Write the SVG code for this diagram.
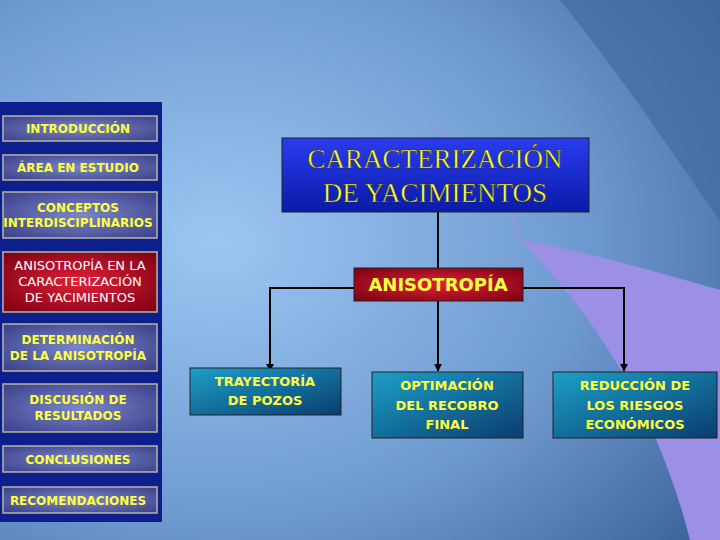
<svg xmlns="http://www.w3.org/2000/svg" width="720" height="540" viewBox="0 0 720 540">
<defs>
<radialGradient id="bg" cx="0.3" cy="0.45" r="0.85">
<stop offset="0" stop-color="#9cc6f2"/><stop offset="0.6" stop-color="#6f9ad0"/><stop offset="1" stop-color="#3f679d"/>
</radialGradient>
<radialGradient id="btn" cx="0.5" cy="0.5" r="0.7">
<stop offset="0" stop-color="#7a86c8"/><stop offset="1" stop-color="#3a3f8a"/>
</radialGradient>
<radialGradient id="red" cx="0.5" cy="0.5" r="0.7">
<stop offset="0" stop-color="#e0203a"/><stop offset="1" stop-color="#7a0010"/>
</radialGradient>
<linearGradient id="blue" x1="0" y1="0" x2="0" y2="1">
<stop offset="0" stop-color="#2a3cf0"/><stop offset="1" stop-color="#0a1aa8"/>
</linearGradient>
<linearGradient id="teal" x1="0" y1="0" x2="1" y2="1">
<stop offset="0" stop-color="#1ca0c8"/><stop offset="1" stop-color="#0a3d6e"/>
</linearGradient>
<marker id="arr" viewBox="0 0 10 10" refX="9" refY="5" markerWidth="4" markerHeight="4" orient="auto"><path d="M0,0L10,5L0,10z" fill="#000"/></marker>
<style>
.b{stroke:#b8b8a0;stroke-width:1.5;fill:url(#btn)}
.bt{font-family:"DejaVu Sans",sans-serif;font-weight:bold;font-size:12px;fill:#ffff40;text-anchor:middle}
.yt{font-family:"DejaVu Sans",sans-serif;font-weight:bold;fill:#ffff40;text-anchor:middle}
.c{stroke:#000;stroke-width:2;fill:none}
</style>
</defs>
<rect width="720" height="540" fill="url(#bg)"/>
<path d="M560,0 C640,100 690,180 720,220 L720,0 Z" fill="#3f679d" opacity="0.6"/>
<path d="M520,240 C600,320 660,420 690,540 L720,540 L720,290 C650,270 580,250 520,240 Z" fill="#9b8fe6"/>
<path d="M430,125 C480,160 510,200 520,240" stroke="#9b8fe6" stroke-width="2" fill="none"/>
<rect x="0" y="102" width="162" height="420" fill="#0c1f8c"/>
<g id="intro"><rect class="b" x="3" y="116" width="154" height="25"/><text class="bt" x="78" y="133">INTRODUCCIÓN</text></g>
<g id="area"><rect class="b" x="3" y="155" width="154" height="25"/><text class="bt" x="78" y="172">ÁREA EN ESTUDIO</text></g>
<g id="conceptos"><rect class="b" x="3" y="192" width="154" height="46"/><text class="bt" x="78" y="212" font-size="10">CONCEPTOS</text><text class="bt" x="78" y="227" font-size="10">INTERDISCIPLINARIOS</text></g>
<g id="aniso-nav"><rect x="3" y="252" width="154" height="60" fill="url(#red)" stroke="#b8b8a0" stroke-width="1.5"/><text class="bt" x="80" y="270" style="fill:#fff;font-weight:normal;font-size:13px">ANISOTROPÍA EN LA</text><text class="bt" x="80" y="286" style="fill:#fff;font-weight:normal;font-size:13px">CARACTERIZACIÓN</text><text class="bt" x="80" y="302" style="fill:#fff;font-weight:normal;font-size:13px">DE YACIMIENTOS</text></g>
<g id="determ"><rect class="b" x="3" y="324" width="154" height="47"/><text class="bt" x="78" y="344">DETERMINACIÓN</text><text class="bt" x="78" y="360">DE LA ANISOTROPÍA</text></g>
<g id="disc"><rect class="b" x="3" y="384" width="154" height="48"/><text class="bt" x="78" y="404">DISCUSIÓN DE</text><text class="bt" x="78" y="420">RESULTADOS</text></g>
<g id="concl"><rect class="b" x="3" y="446" width="154" height="26"/><text class="bt" x="78" y="464">CONCLUSIONES</text></g>
<g id="recom"><rect class="b" x="3" y="487" width="154" height="26"/><text class="bt" x="78" y="505">RECOMENDACIONES</text></g>
<g id="connectors">
<line class="c" x1="438" y1="212" x2="438" y2="268" stroke-width="1"/>
<polyline class="c" points="354,288 270,288 270,371" marker-end="url(#arr)"/>
<polyline class="c" points="523,288 624,288 624,371" marker-end="url(#arr)"/>
<line class="c" x1="438" y1="300" x2="438" y2="371" marker-end="url(#arr)"/>
</g>
<g id="top"><rect x="282" y="138" width="307" height="74" fill="url(#blue)" stroke="#222" stroke-width="1"/><text class="yt" x="435" y="168" style="font-family:'Liberation Serif',serif;font-weight:normal;stroke:#222;stroke-width:0.5" font-size="27">CARACTERIZACIÓN</text><text class="yt" x="435" y="202" style="font-family:'Liberation Serif',serif;font-weight:normal;stroke:#222;stroke-width:0.5" font-size="27">DE YACIMIENTOS</text></g>
<g id="aniso"><rect x="354" y="268" width="169" height="33" fill="url(#red)" stroke="#222"/><text class="yt" x="438" y="291" font-size="18">ANISOTROPÍA</text></g>
<g id="tray"><rect x="190" y="368" width="151" height="47" fill="url(#teal)" stroke="#222"/><text class="yt" x="265" y="386" font-size="13">TRAYECTORÍA</text><text class="yt" x="265" y="405" font-size="13">DE POZOS</text></g>
<g id="optim"><rect x="372" y="372" width="151" height="66" fill="url(#teal)" stroke="#222"/><text class="yt" x="447" y="390" font-size="13">OPTIMACIÓN</text><text class="yt" x="447" y="410" font-size="13">DEL RECOBRO</text><text class="yt" x="447" y="429" font-size="13">FINAL</text></g>
<g id="reduc"><rect x="553" y="372" width="164" height="66" fill="url(#teal)" stroke="#222"/><text class="yt" x="635" y="390" font-size="13">REDUCCIÓN DE</text><text class="yt" x="635" y="410" font-size="13">LOS RIESGOS</text><text class="yt" x="635" y="429" font-size="13">ECONÓMICOS</text></g>
</svg>
